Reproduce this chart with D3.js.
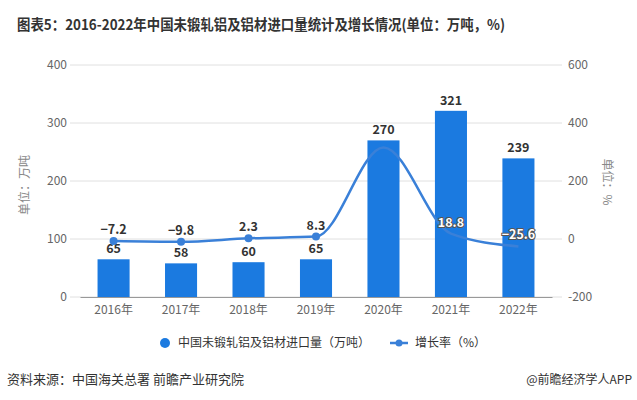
<!DOCTYPE html>
<html>
<head>
<meta charset="utf-8">
<script src="https://cdn.jsdelivr.net/npm/d3@7"></script>
<style>
  body { margin: 0; background: #fff; }
  text { font-family: "Noto Sans CJK SC", "Microsoft YaHei", sans-serif; }
</style>
</head>
<body>
<div id="chart"></div>
<script>
// chart data
var years   = ['2016年', '2017年', '2018年', '2019年', '2020年', '2021年', '2022年'];
var imports = [65, 58, 60, 65, 270, 321, 239];          // 万吨
var growth  = [-7.2, -9.8, 2.3, 8.3, 315.4, 18.8, -25.6]; // %
var growthLabels = ['−7.2', '−9.8', '2.3', '8.3', null, '18.8', '−25.6'];
var leftTicks  = [0, 100, 200, 300, 400];
var rightTicks = [-200, 0, 200, 400, 600];

var width = 637, height = 400;
var plotLeft = 80, plotRight = 552, plotTop = 65, plotBottom = 297;
var barColor = '#1b7ae0', lineColor = '#3a80d8';

var svg = d3.select('#chart').append('svg')
  .attr('width', width)
  .attr('height', height);

var x = d3.scaleBand().domain(years).range([plotLeft, plotRight]).paddingInner(0.525).paddingOuter(0.26);
var yL = d3.scaleLinear().domain([0, 400]).range([plotBottom, plotTop]);
var yR = d3.scaleLinear().domain([-200, 600]).range([plotBottom, plotTop]);

// title
svg.append('text')
  .attr('x', 17).attr('y', 30)
  .attr('font-size', 14.5).attr('font-weight', 'bold').attr('fill', '#333')
  .attr('textLength', 488).attr('lengthAdjust', 'spacingAndGlyphs')
  .text('图表5：2016-2022年中国未锻轧铝及铝材进口量统计及增长情况(单位：万吨，%)');

// gridlines
svg.append('g').selectAll('line').data(leftTicks).enter().append('line')
  .attr('x1', 70).attr('x2', 562)
  .attr('y1', function(d) { return yL(d); })
  .attr('y2', function(d) { return yL(d); })
  .attr('stroke', '#e0e0e0');

// left axis labels
svg.append('g').selectAll('text').data(leftTicks).enter().append('text')
  .attr('x', 67).attr('y', function(d) { return yL(d) + 4; })
  .attr('text-anchor', 'end').attr('font-size', 12).attr('fill', '#666')
  .text(function(d) { return d; });

// right axis labels
svg.append('g').selectAll('text').data(rightTicks).enter().append('text')
  .attr('x', 568).attr('y', function(d) { return yR(d) + 4; })
  .attr('font-size', 12).attr('fill', '#666')
  .text(function(d) { return d; });

// axis titles
svg.append('text')
  .attr('transform', 'translate(29,185) rotate(-90)')
  .attr('text-anchor', 'middle').attr('font-size', 12).attr('fill', '#888')
  .text('单位：万吨');
svg.append('text')
  .attr('transform', 'translate(603,182) rotate(90)')
  .attr('text-anchor', 'middle').attr('font-size', 12).attr('fill', '#888')
  .text('单位：%');

// bars
svg.append('g').selectAll('rect').data(imports).enter().append('rect')
  .attr('x', function(d, i) { return x(years[i]); })
  .attr('y', function(d) { return yL(d); })
  .attr('width', x.bandwidth())
  .attr('height', function(d) { return plotBottom - yL(d); })
  .attr('fill', barColor);

// x axis
var xAxis = svg.append('g')
  .attr('transform', 'translate(0,' + plotBottom + ')')
  .call(d3.axisBottom(x).tickSize(0).tickPadding(8));
xAxis.select('.domain').attr('stroke', '#999');
xAxis.selectAll('text').attr('font-size', 12).attr('fill', '#666')
  .attr('font-family', '"Noto Sans CJK SC", sans-serif');

// bar labels
svg.append('g').selectAll('text').data(imports).enter().append('text')
  .attr('x', function(d, i) { return x(years[i]) + x.bandwidth() / 2; })
  .attr('y', function(d) { return yL(d) - 6; })
  .attr('text-anchor', 'middle').attr('font-size', 12.5).attr('font-weight', 'bold').attr('fill', '#333')
  .text(function(d) { return d; });

// growth line
var cx = function(i) { return x(years[i]) + x.bandwidth() / 2; };
var line = d3.line()
  .x(function(d, i) { return cx(i); })
  .y(function(d) { return yR(d); })
  .curve(d3.curveMonotoneX);
svg.append('path').datum(growth)
  .attr('d', line).attr('fill', 'none')
  .attr('stroke', lineColor).attr('stroke-width', 2.5);

svg.append('g').selectAll('circle').data(growth.slice(0, 4)).enter().append('circle')
  .attr('cx', function(d, i) { return cx(i); })
  .attr('cy', function(d) { return yR(d); })
  .attr('r', 4).attr('fill', lineColor);

// growth labels
var gl = growth.map(function(d, i) { return { v: d, i: i, t: growthLabels[i] }; })
  .filter(function(d) { return d.t !== null; });
svg.append('g').selectAll('text').data(gl).enter().append('text')
  .attr('x', function(d) { return cx(d.i); })
  .attr('y', function(d) { return yR(d.v) - 7; })
  .attr('text-anchor', 'middle').attr('font-size', 12.5).attr('font-weight', 'bold')
  .attr('fill', function(d) { return d.i >= 5 ? '#fff' : '#333'; })
  .attr('stroke', function(d) { return d.i >= 5 ? '#555' : 'none'; })
  .attr('stroke-width', 2).attr('paint-order', 'stroke')
  .text(function(d) { return d.t; });

// legend
var lg = svg.append('g');
lg.append('circle').attr('cx', 165).attr('cy', 343).attr('r', 5).attr('fill', barColor);
lg.append('text').attr('x', 178).attr('y', 347).attr('font-size', 12).attr('fill', '#333')
  .text('中国未锻轧铝及铝材进口量（万吨）');
lg.append('line').attr('x1', 390).attr('x2', 408).attr('y1', 343).attr('y2', 343)
  .attr('stroke', lineColor).attr('stroke-width', 2.5);
lg.append('circle').attr('cx', 399).attr('cy', 343).attr('r', 3.5).attr('fill', lineColor);
lg.append('text').attr('x', 415).attr('y', 347).attr('font-size', 12).attr('fill', '#333')
  .text('增长率（%）');

// footer
svg.append('text').attr('x', 7).attr('y', 384).attr('font-size', 13).attr('fill', '#333')
  .text('资料来源：中国海关总署 前瞻产业研究院');
svg.append('text').attr('x', 632).attr('y', 384).attr('text-anchor', 'end')
  .attr('font-size', 12).attr('fill', '#333')
  .text('@前瞻经济学人APP');
</script>
</body>
</html>
